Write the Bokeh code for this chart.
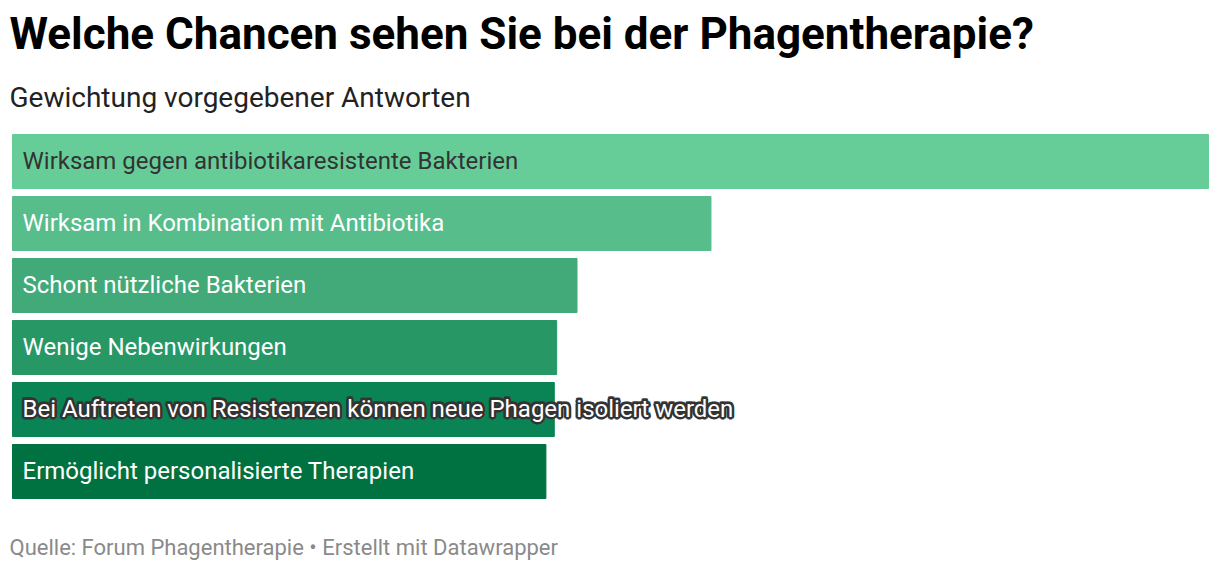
from bokeh.plotting import figure
from bokeh.models import ColumnDataSource, Range1d, FactorRange, Title
from bokeh.core.properties import value
from bokeh.embed import file_html
from bokeh.resources import INLINE

# answers, top to bottom, with their relative weight (longest bar = 100)
answers = [
    "Wirksam gegen antibiotikaresistente Bakterien",
    "Wirksam in Kombination mit Antibiotika",
    "Schont nützliche Bakterien",
    "Wenige Nebenwirkungen",
    "Bei Auftreten von Resistenzen können neue Phagen isoliert werden",
    "Ermöglicht personalisierte Therapien",
]
weights = [100, 58.4, 47.2, 45.5, 45.3, 44.6]
bar_colors = ["#66cd99", "#56bd8b", "#42aa78", "#279766", "#0b8455", "#007141"]
label_colors = ["#333333", "#ffffff", "#ffffff", "#ffffff", "#ffffff", "#ffffff"]

FONT = "Roboto"
vmax = max(weights)
pad = vmax * 4 / 1196  # frame is 4px wider than the longest bar on each side

p = figure(
    frame_width=1204, frame_height=372,
    x_range=Range1d(-pad, vmax + pad),
    y_range=FactorRange(*reversed(answers), range_padding=0),
    output_backend="svg", toolbar_location=None,
    min_border_left=8, min_border_right=0, min_border_top=130, min_border_bottom=0,
    outline_line_color=None, background_fill_color="white", border_fill_color="white",
)
p.xaxis.visible = False
p.yaxis.visible = False
p.xgrid.visible = False
p.ygrid.visible = False

src = ColumnDataSource(dict(answer=answers, weight=weights, color=bar_colors, tcolor=label_colors))
p.hbar(y="answer", left=0, right="weight", height=54 / 62, color="color", source=src)

# labels inside the bars; the one that overflows the bar gets a dark halo
halo_idx = 4
txt = dict(x=0, y="answer", text="answer", text_baseline="middle", text_align="left",
           text_font=value(FONT), text_font_size="24px")

ring = [(-2, 0), (2, 0), (0, -2), (0, 2), (-1.5, -1.5), (1.5, -1.5), (-1.5, 1.5), (1.5, 1.5)]
halo_src = ColumnDataSource(dict(
    answer=[answers[halo_idx]] * len(ring),
    dx=[10 + d[0] for d in ring],
    dy=[d[1] - 1 for d in ring],
))
p.text(source=halo_src, x_offset="dx", y_offset="dy", text_color="#333333",
       text_outline_color="#333333", **txt)
p.text(source=src, x_offset=10, y_offset=-1, text_color="tcolor", **txt)

sub = Title(text="Gewichtung vorgegebener Antworten", align="left",
            text_font=FONT, text_font_size="28px", text_font_style="normal",
            text_color="#222222", offset=1, standoff=33)
title = Title(text="Welche Chancen sehen Sie bei der Phagentherapie?", align="left",
              text_font=FONT, text_font_size="44px", text_font_style="bold",
              text_color="#000000", offset=1, standoff=5)
p.add_layout(sub, "above")
p.add_layout(title, "above")

footer = Title(text="Quelle: Forum Phagentherapie • Erstellt mit Datawrapper", align="left",
               text_font=FONT, text_font_size="22px", text_font_style="normal",
               text_color="#8a8a8a", offset=1, standoff=61)
p.add_layout(footer, "below")

open("out.html", "w").write(file_html(p, INLINE))
